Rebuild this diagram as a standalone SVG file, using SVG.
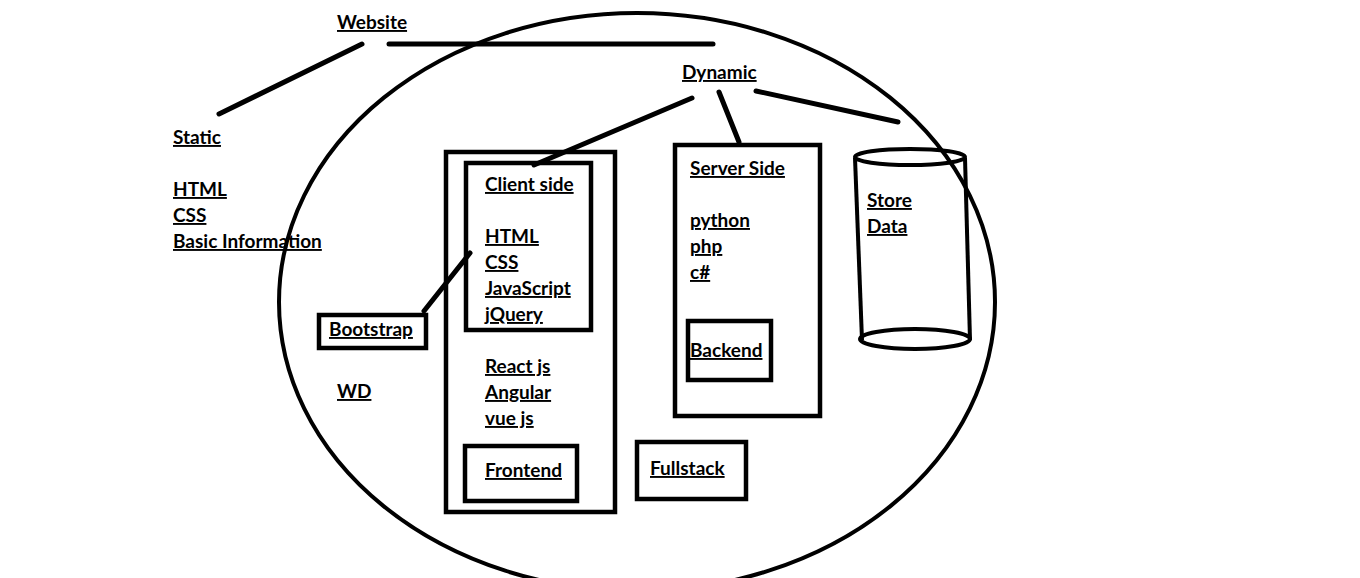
<svg xmlns="http://www.w3.org/2000/svg" width="1360" height="578" viewBox="0 0 1360 578">
<style>
text{font-family:Lato,"Open Sans","Liberation Sans",sans-serif;font-weight:bold;font-size:19px;fill:#000;text-decoration:underline;text-decoration-thickness:2px}
.box{fill:none;stroke:#000;stroke-width:4.5}
.ln{fill:none;stroke:#000;stroke-width:5;stroke-linecap:round}
.shape{fill:none;stroke:#000;stroke-width:4}
</style>
<rect width="1360" height="578" fill="#fff"/>
<g id="boundary"><ellipse class="shape" cx="637" cy="302" rx="358" ry="289"/></g>
<g id="connectors">
<line class="ln" x1="362" y1="44" x2="219" y2="114"/>
<line class="ln" x1="389" y1="44" x2="713" y2="44"/>
<line class="ln" x1="692" y1="98" x2="534" y2="165"/>
<line class="ln" x1="719" y1="92" x2="739" y2="142"/>
<line class="ln" x1="756" y1="91" x2="898" y2="122"/>
<line class="ln" x1="424" y1="311" x2="470" y2="253"/>
</g>
<g id="website"><text x="337" y="29">Website</text></g>
<g id="dynamic"><text x="682" y="79">Dynamic</text></g>
<g id="static">
<text x="173" y="144">Static</text>
<text x="173" y="196">HTML</text>
<text x="173" y="222">CSS</text>
<text x="173" y="248">Basic Information</text>
</g>
<g id="frontend-area">
<rect class="box" x="446" y="152" width="169" height="360"/>
<text x="485" y="373">React js</text>
<text x="485" y="399">Angular</text>
<text x="485" y="425">vue js</text>
</g>
<g id="client-side">
<rect class="box" x="466" y="163" width="125" height="167"/>
<text x="485" y="191">Client side</text>
<text x="485" y="243">HTML</text>
<text x="485" y="269">CSS</text>
<text x="485" y="295">JavaScript</text>
<text x="485" y="321">jQuery</text>
</g>
<g id="frontend">
<rect class="box" x="465" y="446" width="112" height="55"/>
<text x="485" y="477">Frontend</text>
</g>
<g id="bootstrap">
<rect class="box" x="319" y="315" width="107" height="33"/>
<text x="329" y="336">Bootstrap</text>
</g>
<g id="wd"><text x="337" y="398">WD</text></g>
<g id="server-side">
<rect class="box" x="675" y="145" width="145" height="271"/>
<text x="690" y="175">Server Side</text>
<text x="690" y="227">python</text>
<text x="690" y="253">php</text>
<text x="690" y="279">c#</text>
</g>
<g id="backend">
<rect class="box" x="688" y="321" width="83" height="59"/>
<text x="690" y="357">Backend</text>
</g>
<g id="fullstack">
<rect class="box" x="637" y="442" width="109" height="57"/>
<text x="650" y="475">Fullstack</text>
</g>
<g id="store-data">
<ellipse class="shape" cx="910" cy="157" rx="55" ry="8"/>
<line class="shape" x1="855" y1="158" x2="862" y2="340"/>
<line class="shape" x1="965" y1="158" x2="970" y2="340"/>
<ellipse class="shape" cx="915" cy="339" rx="55" ry="10"/>
<text x="867" y="207">Store</text>
<text x="867" y="233">Data</text>
</g>
</svg>
